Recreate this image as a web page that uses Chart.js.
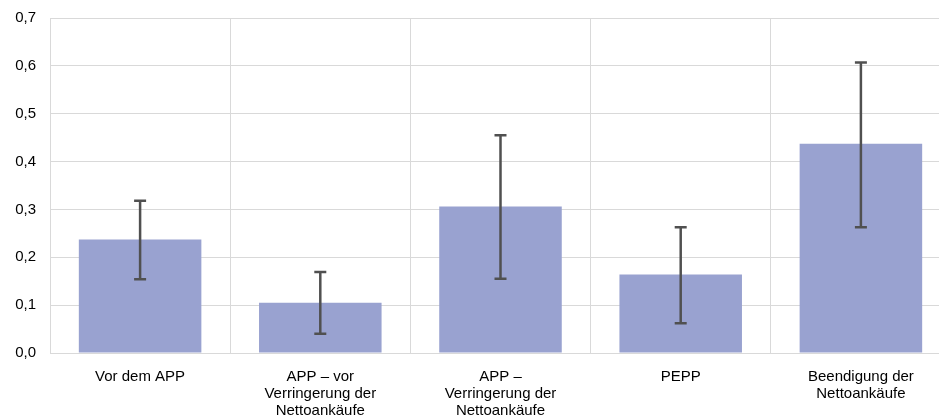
<!DOCTYPE html>
<html>
<head>
<meta charset="utf-8">
<script src="https://cdn.jsdelivr.net/npm/chart.js@4"></script>
<style>
  html, body { margin: 0; padding: 0; background: #fff; overflow: hidden; }
  .wrap { width: 951px; height: 417px; position: relative; }
</style>
</head>
<body>
<div class="wrap"><canvas id="chart"></canvas></div>
<script>
const categories = [
  ["Vor dem APP"],
  ["APP – vor", "Verringerung der", "Nettoankäufe"],
  ["APP –", "Verringerung der", "Nettoankäufe"],
  ["PEPP"],
  ["Beendigung der", "Nettoankäufe"],
];
const values = [0.237, 0.105, 0.306, 0.164, 0.437];
const lowerBound = [0.154, 0.040, 0.155, 0.062, 0.263];
const upperBound = [0.318, 0.169, 0.455, 0.263, 0.607];
const yTicks = [0, 0.1, 0.2, 0.3, 0.4, 0.5, 0.6, 0.7];

const errorBars = {
  id: "errorBars",
  afterDatasetsDraw(chart) {
    const c = chart.ctx;
    const yScale = chart.scales.y;
    const meta = chart.getDatasetMeta(0);
    c.save();
    c.strokeStyle = "#505050";
    c.lineWidth = 2.5;
    meta.data.forEach((bar, i) => {
      const x = bar.x;
      const yTop = yScale.getPixelForValue(upperBound[i]);
      const yBot = yScale.getPixelForValue(lowerBound[i]);
      c.beginPath();
      c.moveTo(x, yTop);
      c.lineTo(x, yBot);
      c.moveTo(x - 6, yTop);
      c.lineTo(x + 6, yTop);
      c.moveTo(x - 6, yBot);
      c.lineTo(x + 6, yBot);
      c.stroke();
    });
    c.restore();
  },
};

Chart.defaults.font.family = "'Liberation Sans', Arial, sans-serif";
Chart.defaults.color = "#000";

const ctx = document.getElementById("chart");
new Chart(ctx, {
  type: "bar",
  data: {
    labels: categories,
    datasets: [
      {
        data: values,
        backgroundColor: "#99A2D0",
        barPercentage: 0.68,
        categoryPercentage: 1,
      },
    ],
  },
  plugins: [errorBars],
  options: {
    responsive: true,
    maintainAspectRatio: false,
    animation: false,
    layout: {
      padding: { top: 18, right: 0, bottom: 0, left: 0 },
    },
    scales: {
      x: {
        grid: {
          color: "#D9D9D9",
          drawTicks: false,
          offset: true,
        },
        border: { color: "#D9D9D9" },
        ticks: {
          font: { size: 15, lineHeight: 1.14 },
          padding: 15,
          maxRotation: 0,
          autoSkip: false,
        },
        afterFit: function (scale) {
          scale.height = 64;
        },
      },
      y: {
        min: 0,
        max: 0.7,
        afterBuildTicks: function (scale) {
          scale.ticks = yTicks.map((v) => ({ value: v }));
        },
        grid: {
          color: "#D9D9D9",
          drawTicks: false,
        },
        border: { color: "#D9D9D9" },
        ticks: {
          font: { size: 15 },
          padding: 14,
          callback: function (value) {
            return value.toFixed(1).replace(".", ",");
          },
        },
        afterFit: function (scale) {
          scale.width = 50;
          scale.paddingTop = 0;
        },
      },
    },
    plugins: {
      legend: { display: false },
      tooltip: { enabled: false },
    },
  },
});
</script>
</body>
</html>
